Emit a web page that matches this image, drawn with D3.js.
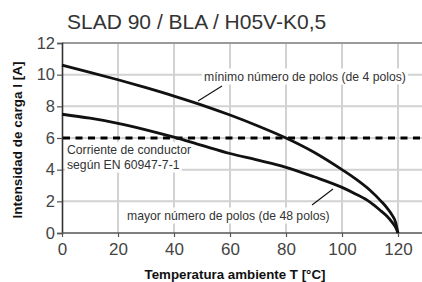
<!DOCTYPE html>
<html><head><meta charset="utf-8">
<script src="https://cdn.jsdelivr.net/npm/d3@7"></script>
<style>
html,body{margin:0;padding:0;background:#fff;}
svg{display:block;}
</style></head>
<body>
<svg id="chart" width="422" height="282"></svg>
<script>
// ---- data ----
const temps = [0,10,20,30,40,50,60,70,80,90,100,105,110,114,116,118,119,120];
const minPoles = [10.6,10.15,9.68,9.18,8.65,8.08,7.45,6.76,6.0,5.1,4.0,3.4,2.7,2.0,1.6,1.1,0.75,0];
const maxPoles = [7.5,7.25,6.93,6.52,6.05,5.53,5.02,4.6,4.15,3.55,2.88,2.45,1.95,1.38,1.07,0.65,0.4,0];
const conductorCurrent = 6;
const xTicks = [0,20,40,60,80,100,120];
const yTicks = [0,2,4,6,8,10,12];
const title = "SLAD 90 / BLA / H05V-K0,5";
const xTitle = "Temperatura ambiente T [°C]";
const yTitle = "Intensidad de carga I [A]";
const labelMin = "mínimo número de polos (de 4 polos)";
const labelMax = "mayor número de polos (de 48 polos)";
const labelCond = ["Corriente de conductor", "según EN 60947-7-1"];

// ---- layout ----
const W = 422, H = 282;
const svg = d3.select("#chart");
const x = d3.scaleLinear().domain([0,120]).range([62,398]);
const y = d3.scaleLinear().domain([0,12]).range([233,43]);
const xRight = W;
const font = "'Liberation Sans', Arial, Helvetica, sans-serif";

// grid
const grid = svg.append("g");
grid.selectAll("line.v").data(xTicks.filter(d=>d>0)).join("line")
  .attr("x1",d=>x(d)).attr("x2",d=>x(d)).attr("y1",y(0)).attr("y2",y(12))
  .attr("stroke","#d2d2d2").attr("stroke-width",2);
grid.selectAll("line.h").data(yTicks.filter(d=>d>0 && d<12)).join("line")
  .attr("x1",x(0)).attr("x2",xRight).attr("y1",d=>y(d)).attr("y2",d=>y(d))
  .attr("stroke","#d2d2d2").attr("stroke-width",2);
// top border
svg.append("line").attr("x1",x(0)).attr("x2",xRight).attr("y1",y(12)).attr("y2",y(12))
  .attr("stroke","#9a9a9a").attr("stroke-width",2.2);

// text boxes (white backgrounds) helper
function boxedText(g, tx, ty, str, anchor){
  const t = g.append("text").attr("x",tx).attr("y",ty).text(str)
    .attr("font-family",font).attr("font-size",12.2).attr("fill","#333")
    .attr("text-anchor",anchor||"start");
  const b = t.node().getBBox();
  g.insert("rect","text").attr("x",b.x-2).attr("y",b.y-1).attr("width",b.width+4).attr("height",b.height+2)
    .attr("fill","#fff");
  return t;
}

// axes
const yAxis = svg.append("g").attr("transform",`translate(${x(0)},0)`)
  .call(d3.axisLeft(y).tickValues(yTicks).tickSize(5).tickPadding(2).tickFormat(d3.format("d")));
yAxis.select(".domain").attr("stroke","#333").attr("stroke-width",1.6);
yAxis.selectAll(".tick line").attr("stroke","#555").attr("stroke-width",1.2);
yAxis.selectAll(".tick text").attr("font-family",font).attr("font-size",16.5).attr("fill","#444");

const xAxis = svg.append("g").attr("transform",`translate(0,${y(0)})`)
  .call(d3.axisBottom(x).tickValues(xTicks).tickSize(4).tickPadding(6).tickFormat(d3.format("d")));
xAxis.select(".domain").remove();
xAxis.selectAll(".tick line").attr("stroke","#555").attr("stroke-width",1.2);
xAxis.selectAll(".tick text").attr("font-family",font).attr("font-size",17).attr("fill","#444");
svg.append("line").attr("x1",x(0)).attr("x2",xRight).attr("y1",y(0)).attr("y2",y(0))
  .attr("stroke","#555").attr("stroke-width",1.6);

// annotations
const ann = svg.append("g");
boxedText(ann, 204, 80.5, labelMin);
boxedText(ann, 67, 154, labelCond[0]);
boxedText(ann, 67, 168.5, labelCond[1]);
boxedText(ann, 127, 219.5, labelMax);

// dashed conductor line
svg.append("line").attr("x1",x(0)+1).attr("x2",xRight).attr("y1",y(conductorCurrent)).attr("y2",y(conductorCurrent))
  .attr("stroke","#000").attr("stroke-width",3).attr("stroke-dasharray","7,5.5");

// curves
const line = d3.line().x(d=>x(d[0])).y(d=>y(d[1])).curve(d3.curveMonotoneX);
[minPoles, maxPoles].forEach(s=>{
  svg.append("path").datum(temps.map((t,i)=>[t,s[i]])).attr("d",line)
    .attr("fill","none").attr("stroke","#111").attr("stroke-width",2.8);
});

// leader lines
svg.append("line").attr("x1",222).attr("y1",86).attr("x2",198).attr("y2",101)
  .attr("stroke","#111").attr("stroke-width",1.1);
svg.append("line").attr("x1",312).attr("y1",205).attr("x2",333).attr("y2",189)
  .attr("stroke","#111").attr("stroke-width",1.1);

// titles
svg.append("text").attr("x",67).attr("y",29).text(title)
  .attr("font-family",font).attr("font-size",21).attr("fill","#333");
svg.append("text").attr("x",235).attr("y",279).attr("text-anchor","middle").text(xTitle)
  .attr("font-family",font).attr("font-size",13.3).attr("font-weight","bold").attr("fill","#111");
svg.append("text").attr("transform","translate(21.5,140) rotate(-90)").attr("text-anchor","middle").text(yTitle)
  .attr("font-family",font).attr("font-size",13.5).attr("font-weight","bold").attr("fill","#111");
</script>
</body></html>
